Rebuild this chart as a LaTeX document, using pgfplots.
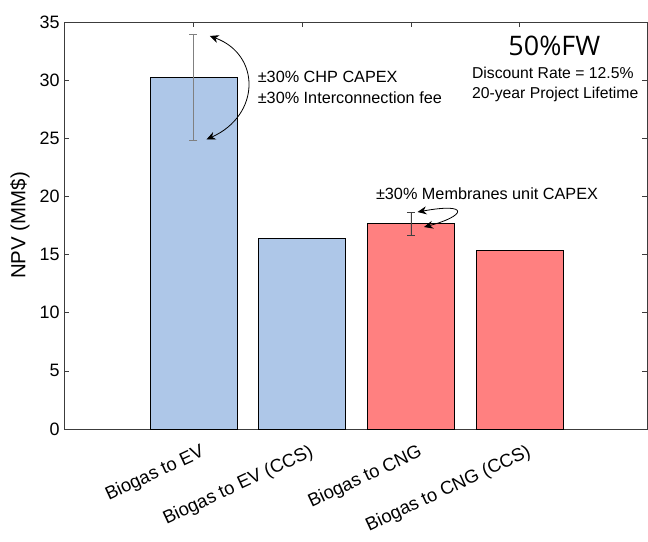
\documentclass[border=0pt]{standalone}
\usepackage{fontspec}
\setmainfont{Liberation Sans}
\newfontfamily\titlefont{Open Sans}
\usepackage{pgfplots}
\pgfplotsset{compat=1.18}
\usetikzlibrary{arrows.meta}
\definecolor{evblue}{RGB}{174,199,232}
\definecolor{cngred}{RGB}{255,128,128}
\definecolor{axgray}{RGB}{60,60,60}
\begin{document}
\begin{tikzpicture}
\path[use as bounding box] (0,0) rectangle (648bp,542bp);
\begin{axis}[
  at={(64bp,113bp)}, anchor=south west,
  width=583bp, height=407bp, scale only axis,
  xmin=-1.19, xmax=4.17, ymin=0, ymax=35,
  xtick={0,1,2,3},
  xticklabels={Biogas to EV, Biogas to EV (CCS), Biogas to CNG, Biogas to CNG (CCS)},
  ytick={0,5,10,15,20,25,30,35},
  tick align=inside, major tick length=5bp,
  xtick pos=both, ytick pos=both,
  axis line style={axgray, line width=0.8bp},
  tick style={axgray, line width=0.6bp},
  /pgf/number format/assume math mode=true,
  yticklabel style={xshift=-1bp, font=\fontsize{18}{18}\selectfont},
  xticklabel style={xshift=8bp, yshift=-10bp, rotate=25, anchor=north east, font=\fontsize{18.5}{18.5}\selectfont},
  ylabel={NPV (MM\$)},
  ylabel style={font=\fontsize{20.5}{20.5}\selectfont, at={(axis description cs:-0.0755,0.5)}, anchor=center},
  clip=false,
]
\addplot[ybar, bar width=0.8, bar shift=0pt, fill=evblue, draw=black, line width=0.8bp,
  error bars/.cd, y dir=both, y explicit, error mark=|,
  error bar style={gray, line width=0.7bp},
  error mark options={gray, mark size=4bp, line width=0.7bp}]
  coordinates {(0,30.27) += (0,3.7) -= (0,5.42)};
\addplot[ybar, bar width=0.8, bar shift=0pt, fill=evblue, draw=black, line width=0.8bp]
  coordinates {(1,16.42)};
\addplot[ybar, bar width=0.8, bar shift=0pt, fill=cngred, draw=black, line width=0.8bp,
  error bars/.cd, y dir=both, y explicit, error mark=|,
  error bar style={black!75, line width=0.7bp},
  error mark options={black!75, mark size=4bp, line width=0.7bp}]
  coordinates {(2,17.71) += (0,0.92) -= (0,1.03)};
\addplot[ybar, bar width=0.8, bar shift=0pt, fill=cngred, draw=black, line width=0.8bp]
  coordinates {(3,15.39)};

\draw[{Stealth[length=9bp,width=8bp]}-{Stealth[length=9bp,width=8bp]}, line width=0.8bp]
  (axis cs:0.15,33.8) .. controls (axis cs:0.62,32.2) and (axis cs:0.62,27) .. (axis cs:0.12,24.9);
\draw[{Stealth[length=9bp,width=8bp]}-{Stealth[length=9bp,width=8bp]}, line width=0.8bp]
  (axis cs:2.06,18.66) .. controls (axis cs:2.55,19.5) and (axis cs:2.5,18.3) .. (axis cs:2.12,17.37);

\node[anchor=west, align=left, font=\fontsize{16.3}{21}\selectfont, inner sep=0pt]
  at (axis cs:0.59,29.37) {±30\% CHP CAPEX\\±30\% Interconnection fee};
\node[anchor=west, font=\fontsize{16.3}{16.3}\selectfont, inner sep=0pt]
  at (axis cs:1.677,20.2) {±30\% Membranes unit CAPEX};
\node[anchor=center, font=\titlefont\fontsize{27}{27}\selectfont, inner sep=0pt]
  at (axis cs:3.318,32.93) {50\%FW};
\node[anchor=west, align=left, font=\fontsize{15.8}{20}\selectfont, inner sep=0pt]
  at (axis cs:2.56,29.66) {Discount Rate = 12.5\%\\20-year Project Lifetime};
\end{axis}
\end{tikzpicture}
\end{document}
